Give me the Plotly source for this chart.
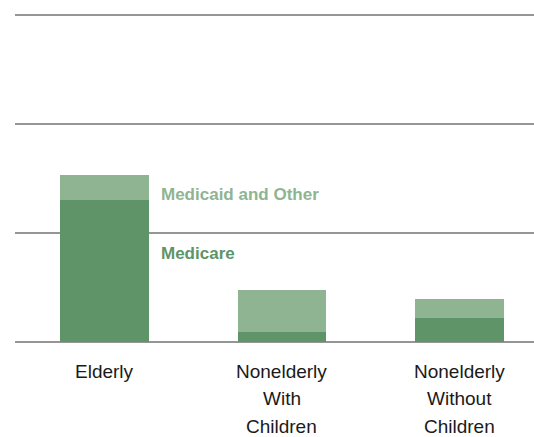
import plotly.graph_objects as go

# Per-capita spending by group, split by payer (gridline = 1 unit)
categories = ["Elderly", "Nonelderly<br>With<br>Children", "Nonelderly<br>Without<br>Children"]
medicare = [1.301, 0.092, 0.220]
medicaid_other = [0.229, 0.384, 0.174]

series_names = ["Medicare", "Medicaid and Other"]
dark_green = "#5e9467"
light_green = "#8fb492"
grid_color = "#969696"
font_family = "Liberation Sans, Arial, sans-serif"

x_pos = list(range(len(categories)))

fig = go.Figure()
fig.add_trace(go.Bar(x=x_pos, y=medicare, name=series_names[0],
                     marker=dict(color=dark_green, line=dict(width=0)), width=0.5))
fig.add_trace(go.Bar(x=x_pos, y=medicaid_other, name=series_names[1],
                     marker=dict(color=light_green, line=dict(width=0)), width=0.5))

# Inline series labels to the right of the first bar
label_x = 0.309
fig.add_annotation(x=label_x, y=1.349, xref="x", yref="y", text=f"<b>{series_names[1]}</b>",
                   showarrow=False, xanchor="left", yanchor="middle",
                   font=dict(family=font_family, size=17, color=light_green))
fig.add_annotation(x=label_x, y=0.814, xref="x", yref="y", text=f"<b>{series_names[0]}</b>",
                   showarrow=False, xanchor="left", yanchor="middle",
                   font=dict(family=font_family, size=17, color=dark_green))

# Category labels, one annotation per line for wider line spacing
line_step = 27.5
for i, cat in enumerate(categories):
    for j, part in enumerate(cat.split("<br>")):
        fig.add_annotation(x=x_pos[i], y=0, xref="x", yref="paper", text=part,
                           showarrow=False, xanchor="center", yanchor="middle",
                           yshift=-(29 + j * line_step),
                           font=dict(family=font_family, size=19, color="#1a1a1a"))

fig.update_layout(
    barmode="stack",
    width=534, height=437,
    margin=dict(l=15, r=0, t=13, b=95),
    paper_bgcolor="white", plot_bgcolor="white",
    showlegend=False,
    bargap=0,
    xaxis=dict(range=[-0.504, 2.42], showticklabels=False, showgrid=False,
               zeroline=False, showline=False, ticks=""),
    yaxis=dict(range=[0, 3.0137], tickvals=[1, 2, 3], showticklabels=False,
               showgrid=True, gridcolor=grid_color, gridwidth=2,
               zeroline=True, zerolinecolor=grid_color, zerolinewidth=2,
               showline=False, ticks=""),
)

fig.write_html("out.html")
